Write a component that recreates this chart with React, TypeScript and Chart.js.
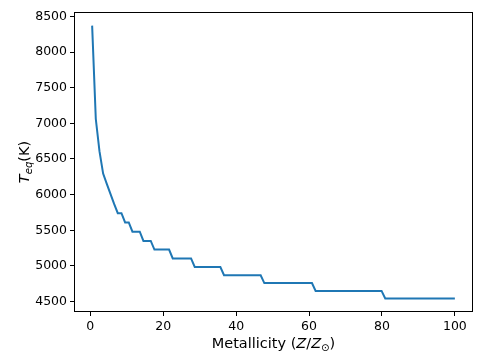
import React, { useEffect, useRef } from "react";
import { Chart, registerables } from "chart.js";

Chart.register(...registerables);

const metallicity = [0.5, 1.505, 2.51, 3.515, 4.52, 5.525, 6.53, 7.535, 8.54, 9.545, 10.55, 11.555, 13.565, 14.57, 16.58, 17.585, 21.605, 22.61, 27.635, 28.64, 35.675, 36.68, 46.73, 47.735, 60.8, 61.805, 79.895, 80.9, 100];
const teq = [8370, 7060, 6610, 6295, 6150, 6010, 5870, 5740, 5740, 5610, 5610, 5480, 5480, 5350, 5350, 5230, 5230, 5105, 5105, 4985, 4985, 4870, 4870, 4760, 4760, 4650, 4650, 4545, 4545];

const xTicks = [0, 20, 40, 60, 80, 100];
const yTicks = [4500, 5000, 5500, 6000, 6500, 7000, 7500, 8000, 8500];

const FONT = "'DejaVu Sans', sans-serif";

const framePlugin = {
  id: "frameAndTitles",
  afterDraw(chart: any) {
    const { ctx, chartArea } = chart;
    const l = Math.round(chartArea.left) + 0.5;
    const t = Math.round(chartArea.top) + 0.5;
    const r = Math.round(chartArea.right) - 0.5;
    const b = Math.round(chartArea.bottom) - 0.5;
    ctx.save();
    ctx.strokeStyle = "#000";
    ctx.lineWidth = 1;
    ctx.strokeRect(l, t, r - l, b - t);

    const fs = 14.5;
    const parts: [string, string, number][] = [
      ["Metallicity (", `${fs}px ${FONT}`, 0],
      ["Z", `italic ${fs}px ${FONT}`, 0],
      ["/", `${fs}px ${FONT}`, 0],
      ["Z", `italic ${fs}px ${FONT}`, 0],
      ["\u2299", `${fs * 0.7}px ${FONT}`, 3],
      [")", `${fs}px ${FONT}`, 0],
    ];
    const drawParts = (ps: [string, string, number][], cx: number, baseY: number) => {
      let total = 0;
      for (const p of ps) {
        ctx.font = p[1];
        total += ctx.measureText(p[0]).width;
      }
      let x = cx - total / 2;
      ctx.textBaseline = "alphabetic";
      ctx.textAlign = "left";
      ctx.fillStyle = "#000";
      for (const p of ps) {
        ctx.font = p[1];
        ctx.fillText(p[0], x, baseY + p[2]);
        x += ctx.measureText(p[0]).width;
      }
    };
    drawParts(parts, (chartArea.left + chartArea.right) / 2, 348);

    ctx.save();
    ctx.translate(28.5, (chartArea.top + chartArea.bottom) / 2);
    ctx.rotate(-Math.PI / 2);
    const yparts: [string, string, number][] = [
      ["T", `italic ${fs}px ${FONT}`, 0],
      ["eq", `italic ${fs * 0.7}px ${FONT}`, 3],
      ["(K)", `${fs}px ${FONT}`, 0],
    ];
    drawParts(yparts, 0, 0);
    ctx.restore();
    ctx.restore();
  },
};

export default function App() {
  const ref = useRef<HTMLCanvasElement | null>(null);
  useEffect(() => {
    if (!ref.current) return;
    const chart = new Chart(ref.current, {
      type: "line",
      data: {
        datasets: [
          {
            data: metallicity.map((x, i) => ({ x, y: teq[i] })),
            borderColor: "#1f77b4",
            borderWidth: 2,
            pointRadius: 0,
            fill: false,
            tension: 0,
          },
        ],
      },
      options: {
        animation: false,
        responsive: false,
        devicePixelRatio: 1,
        layout: { padding: { top: 12, right: 12, left: 0, bottom: 0 } },
        plugins: { legend: { display: false }, tooltip: { enabled: false } },
        scales: {
          x: {
            type: "linear",
            min: -4.475,
            max: 104.975,
            afterBuildTicks: (s: any) => {
              s.ticks = xTicks.map((v) => ({ value: v }));
            },
            afterFit: (s: any) => {
              s.height = 52;
            },
            grid: { display: true, drawOnChartArea: false, drawTicks: true, tickLength: 4, color: "#000", lineWidth: 1 },
            border: { display: false },
            ticks: { color: "#000", font: { family: FONT, size: 12.5 }, padding: 3, maxRotation: 0, autoSkip: false },
          },
          y: {
            type: "linear",
            min: 4354,
            max: 8561,
            afterBuildTicks: (s: any) => {
              s.ticks = yTicks.map((v) => ({ value: v }));
            },
            afterFit: (s: any) => {
              s.width = 74;
            },
            grid: { display: true, drawOnChartArea: false, drawTicks: true, tickLength: 4, color: "#000", lineWidth: 1 },
            border: { display: false },
            ticks: { color: "#000", font: { family: FONT, size: 12.5 }, padding: 3, autoSkip: false, callback: (v: any) => String(v) },
          },
        },
      },
      plugins: [framePlugin],
    });
    return () => chart.destroy();
  }, []);
  return (
    <div style={{ position: "absolute", left: 0, top: 0, width: 485, height: 364, background: "#fff" }}>
      <canvas ref={ref} width={485} height={364} />
    </div>
  );
}
